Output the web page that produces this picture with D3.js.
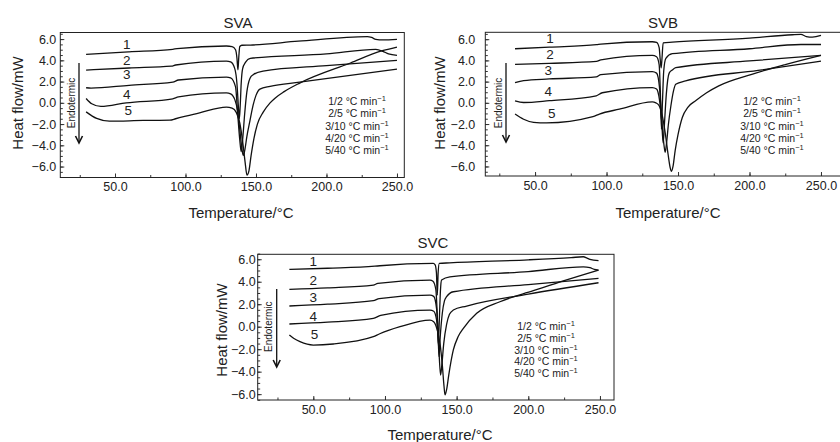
<!DOCTYPE html>
<html><head><meta charset="utf-8">
<script src="https://cdn.jsdelivr.net/npm/d3@7/dist/d3.min.js"></script>
<style>
html,body{margin:0;padding:0;background:#fff;}
svg{display:block;font-family:"Liberation Sans",Arial,Helvetica,sans-serif;}
</style></head>
<body>
<svg id="chart" width="840" height="442"></svg>
<script>
// ---------- DATA ----------
const panelNames = ["SVA", "SVB", "SVC"];
const rateLabels = ["1/2", "2/5", "3/10", "4/20", "5/40"];
const curveNumbers = ["1", "2", "3", "4", "5"];
const xTickValues = [50, 100, 150, 200, 250];
const yTickValues = [-6, -4, -2, 0, 2, 4, 6];
const xLabel = "Temperature/°C";
const yLabel = "Heat flow/mW";
const arrowLabel = "Endotermic";

// [temperature °C, heat flow mW]
const svaCurve1 = [[29.5,4.57],[60,4.8],[91,5.04],[94,5.1],[129,5.35],[133,5.3],[135.5,5.0],[136.5,4.2],[137.2,3.1],[137.8,4.3],[138.5,5.3],[140,5.42],[146,5.44],[180,5.8],[229,6.23],[232,6.15],[235,5.98],[240,5.93],[250,5.98]];
const svaCurve2 = [[29.5,3.08],[60,3.28],[90,3.45],[93,3.56],[129,3.93],[132,3.85],[135,3.2],[136.5,1.8],[137.5,-0.3],[138.2,-1.5],[138.8,-0.3],[139.5,1.8],[140.5,3.2],[142.5,3.8],[146,4.19],[200,4.6],[235,5.03],[240,4.85],[244,4.6],[250,4.47]];
const svaCurve3 = [[29.5,1.42],[33,1.38],[60,1.65],[91,1.95],[95,2.15],[129,2.42],[132,2.35],[135.5,1.5],[137,-1.0],[138.5,-3.5],[139.5,-4.6],[140.5,-3.5],[142,-1.0],[143.5,1.0],[145.7,2.3],[148,2.65],[155,2.99],[200,3.5],[250,4.0]];
const svaCurve4 = [[29.5,0.41],[33.5,-0.09],[40,-0.34],[58,0.0],[91,0.38],[95,0.55],[129,0.94],[132,0.85],[135,0.3],[137,-0.8],[138.5,-2.5],[140,-4.3],[141,-4.95],[142,-4.5],[143.5,-3.2],[145.7,-1.7],[148,-0.2],[150,0.7],[152.8,1.29],[160,1.55],[181,1.95],[250,3.18]];
const svaCurve5 = [[29.5,-0.85],[37,-1.47],[46,-1.73],[70,-1.66],[89,-1.63],[93,-1.5],[110,-0.94],[129,-0.41],[133,-0.5],[136,-0.9],[138.5,-1.9],[140.5,-3.6],[142.3,-5.6],[143.6,-6.8],[145,-6.4],[146.5,-5.0],[148.5,-3.4],[151,-2.0],[155,-0.9],[160,0.0],[163.5,0.44],[170,1.05],[181,1.86],[217,3.75],[239,4.88],[250,5.25]];

const svbCurve1 = [[36,5.1],[60,5.25],[93,5.48],[96,5.53],[132,5.76],[135,5.7],[136.8,5.2],[137.6,4.0],[138.2,3.3],[138.8,4.2],[139.6,5.66],[146,5.72],[200,6.1],[230,6.42],[236,6.45],[239.8,6.25],[244,6.2],[250,6.35]];
const svbCurve2 = [[36,3.63],[60,3.72],[93,3.9],[96,4.05],[132,4.47],[135,4.35],[136.8,3.6],[137.6,1.2],[138.4,-2.47],[139.1,0.0],[140,3.0],[141.5,4.2],[146,4.63],[200,5.1],[236,5.5],[250,5.5]];
const svbCurve3 = [[36,1.9],[42,2.1],[60,2.25],[92.8,2.44],[96,2.65],[132,2.94],[135,2.8],[137,1.5],[138.5,-1.5],[139.6,-3.8],[140.5,-2.0],[141.8,0.8],[143.8,2.8],[146,3.1],[148.4,3.31],[200,3.95],[250,4.47]];
const svbCurve4 = [[36,0.19],[42,0.03],[60,0.2],[92.8,0.66],[97,0.95],[132,1.44],[135,1.3],[137,0.3],[138.8,-2.0],[140.2,-4.0],[141,-4.66],[141.8,-4.0],[143.3,-2.0],[145,-0.3],[146.8,1.1],[148.4,1.75],[155.3,2.07],[206,3.05],[250,3.94]];
const svbCurve5 = [[36,-1.06],[42,-1.55],[49,-1.85],[58,-1.9],[90.5,-1.31],[95,-1.06],[109,-0.6],[132,0.09],[134.5,0.0],[136.8,-0.28],[139,-1.2],[141,-2.8],[143,-4.8],[144.5,-6.1],[145.4,-6.45],[146.5,-6.0],[148,-4.5],[150,-3.0],[153,-1.38],[157,-0.4],[162.3,0.19],[170,0.95],[178.5,1.6],[201.6,2.69],[225,3.6],[250,4.47]];

const svcCurve1 = [[33.3,5.1],[60,5.2],[93,5.38],[96.5,5.42],[133.7,5.63],[135,5.5],[135.9,4.8],[136.5,2.81],[137.1,4.8],[137.9,5.63],[145,5.68],[200,5.95],[230,6.15],[238.4,6.22],[241,6.1],[243,5.99],[249,5.87]];
const svcCurve2 = [[33.3,3.32],[60,3.45],[91.9,3.7],[95,3.85],[131.4,4.15],[133.5,4.05],[135.5,3.3],[136.5,1.0],[137.2,-1.5],[137.9,0.5],[138.7,3.2],[139.5,4.15],[145.3,4.44],[200,4.9],[238.4,5.33],[243,5.25],[246,5.1],[249,5.04]];
const svcCurve3 = [[33.3,1.84],[60,2.0],[91.9,2.31],[96,2.5],[131.4,2.81],[134,2.7],[136,1.6],[137,-0.5],[137.7,-2.67],[138.5,-1.0],[140,1.2],[141.5,2.3],[143,2.67],[147.7,3.11],[200,3.75],[249,4.3]];
const svcCurve4 = [[33.3,0.24],[60,0.4],[91.9,0.74],[97,1.0],[131.4,1.48],[134,1.38],[136,0.6],[137.5,-1.8],[138.8,-4.3],[139.6,-3.5],[141,-1.5],[143,0.2],[145,1.1],[147.7,1.48],[157,1.84],[200,2.9],[249,3.91]];
const svcCurve5 = [[33.3,-0.74],[36.5,-1.05],[40.7,-1.33],[50,-1.63],[64,-1.54],[91.9,-0.89],[96,-0.65],[110.5,0.0],[131.4,0.59],[134,0.45],[136.5,-0.3],[138.5,-1.6],[140,-3.4],[141.2,-5.3],[141.9,-6.07],[143,-5.6],[144.5,-4.3],[147.7,-2.07],[151,-0.9],[154.7,-0.15],[164,1.19],[180.2,2.22],[203.5,3.2],[225,4.1],[249,5.04]];

const svaCurves = [svaCurve1, svaCurve2, svaCurve3, svaCurve4, svaCurve5];
const svbCurves = [svbCurve1, svbCurve2, svbCurve3, svbCurve4, svbCurve5];
const svcCurves = [svcCurve1, svcCurve2, svcCurve3, svcCurve4, svcCurve5];

// ---------- LAYOUT ----------
const layouts = [
  {curves: svaCurves, left:60.3, right:404.3, top:32.5, bottom:177.5, tDom:[11.2,255.2], hDom:[-7.03,6.62],
   yPad:4, title:[238,23], xTitle:[241,213], yTitle:[18,103],
   legend:{cx:357, y0:101.7, dy:12.1}, endo:{tx:71, ty:103, ax:79, a0:63, a1:143},
   nums:[[126.7,44],[126.7,60],[126.7,74.3],[126.7,94],[128.3,110.7]]},
  {curves: svbCurves, left:485.3, right:842, top:32.3, bottom:176, tDom:[15.2,264.7], hDom:[-6.9,6.65],
   yPad:10, title:[663,23], xTitle:[668,213], yTitle:[440,103],
   legend:{cx:772, y0:101.7, dy:12.1}, endo:{tx:498, ty:103, ax:506, a0:63, a1:142},
   nums:[[550,38.3],[550,54.3],[548.3,70],[548.3,91.7],[551.7,113.3]]},
  {curves: svcCurves, left:257.7, right:614, top:254.3, bottom:400, tDom:[11.2,259.8], hDom:[-6.52,6.44],
   yPad:2, title:[433,243], xTitle:[440,435], yTitle:[221.7,330],
   legend:{cx:546, y0:326.7, dy:11.7}, endo:{tx:268.3, ty:326.7, ax:276.7, a0:289, a1:367},
   nums:[[313.3,261.7],[313.3,280],[313.3,297.3],[313.3,316],[314.5,334]]}
];

const svg = d3.select("#chart");
const fmt = d3.format(".1f");

layouts.forEach((L, pi) => {
  const x = d3.scaleLinear().domain(L.tDom).range([L.left, L.right]);
  const y = d3.scaleLinear().domain(L.hDom).range([L.bottom, L.top]);
  const g = svg.append("g");

  // minor ticks
  const xMinor = d3.range(25, 251, 25);
  const yMinor = d3.range(-6.5, 6.51, 0.5);
  g.append("g").attr("transform", `translate(0,${L.bottom})`)
    .call(d3.axisBottom(x).tickValues(xMinor).tickSize(-2.5).tickFormat(""))
    .call(s => s.select(".domain").remove())
    .call(s => s.selectAll("line").attr("stroke", "#333"));
  g.append("g").attr("transform", `translate(${L.left},0)`)
    .call(d3.axisLeft(y).tickValues(yMinor).tickSize(-2.5).tickFormat(""))
    .call(s => s.select(".domain").remove())
    .call(s => s.selectAll("line").attr("stroke", "#333"));

  // major axes
  const xa = g.append("g").attr("transform", `translate(0,${L.bottom})`)
    .call(d3.axisBottom(x).tickValues(xTickValues).tickFormat(fmt).tickSizeInner(-4).tickSizeOuter(0).tickPadding(5));
  const ya = g.append("g").attr("transform", `translate(${L.left},0)`)
    .call(d3.axisLeft(y).tickValues(yTickValues).tickFormat(fmt).tickSizeInner(-4).tickSizeOuter(0).tickPadding(L.yPad));
  [xa, ya].forEach(a => {
    a.select(".domain").remove();
    a.selectAll("line").attr("stroke", "#333");
    a.selectAll("text").attr("font-size", 12.5).attr("fill", "#222")
      .attr("font-family", '"Liberation Sans",Arial,sans-serif');
  });

  // frame
  g.append("rect").attr("x", L.left).attr("y", L.top)
    .attr("width", L.right - L.left).attr("height", L.bottom - L.top)
    .attr("fill", "none").attr("stroke", "#222").attr("stroke-width", 1);

  // curves
  const line = d3.line().x(d => x(d[0])).y(d => y(d[1])).curve(d3.curveMonotoneX);
  g.append("g").selectAll("path").data(L.curves).join("path")
    .attr("d", line).attr("fill", "none").attr("stroke", "#111")
    .attr("stroke-width", 1.3).attr("stroke-linejoin", "round");

  // curve numbers
  g.append("g").selectAll("text").data(curveNumbers).join("text")
    .attr("x", (d, i) => L.nums[i][0]).attr("y", (d, i) => L.nums[i][1])
    .attr("dy", "0.35em").attr("text-anchor", "middle")
    .attr("font-size", 13.5).attr("fill", "#222").text(d => d);

  // legend
  const lg = g.append("g").selectAll("text").data(rateLabels).join("text")
    .attr("x", L.legend.cx).attr("y", (d, i) => L.legend.y0 + i * L.legend.dy)
    .attr("dy", "0.35em").attr("text-anchor", "middle")
    .attr("font-size", 10.5).attr("fill", "#222");
  lg.append("tspan").text(d => `${d} °C min`);
  lg.append("tspan").attr("dy", -4).attr("font-size", 7.5).text("−1");

  // Endotermic label + arrow
  g.append("text").attr("transform", `translate(${L.endo.tx},${L.endo.ty}) rotate(-90)`)
    .attr("text-anchor", "middle").attr("dy", "0.35em")
    .attr("font-size", 10).attr("fill", "#222").text(arrowLabel);
  g.append("line").attr("x1", L.endo.ax).attr("x2", L.endo.ax)
    .attr("y1", L.endo.a0).attr("y2", L.endo.a1 - 1)
    .attr("stroke", "#111").attr("stroke-width", 1.3);
  g.append("path")
    .attr("d", `M${L.endo.ax - 3.5},${L.endo.a1 - 7} L${L.endo.ax},${L.endo.a1} L${L.endo.ax + 3.5},${L.endo.a1 - 7}`)
    .attr("fill", "none").attr("stroke", "#111").attr("stroke-width", 1.6);

  // titles
  g.append("text").attr("x", L.title[0]).attr("y", L.title[1]).attr("dy", "0.35em")
    .attr("text-anchor", "middle").attr("font-size", 15).attr("fill", "#222").text(panelNames[pi]);
  g.append("text").attr("x", L.xTitle[0]).attr("y", L.xTitle[1]).attr("dy", "0.35em")
    .attr("text-anchor", "middle").attr("font-size", 15).attr("fill", "#222").text(xLabel);
  g.append("text").attr("transform", `translate(${L.yTitle[0]},${L.yTitle[1]}) rotate(-90)`)
    .attr("dy", "0.35em").attr("text-anchor", "middle").attr("font-size", 15).attr("fill", "#222").text(yLabel);
});
</script>
</body></html>
